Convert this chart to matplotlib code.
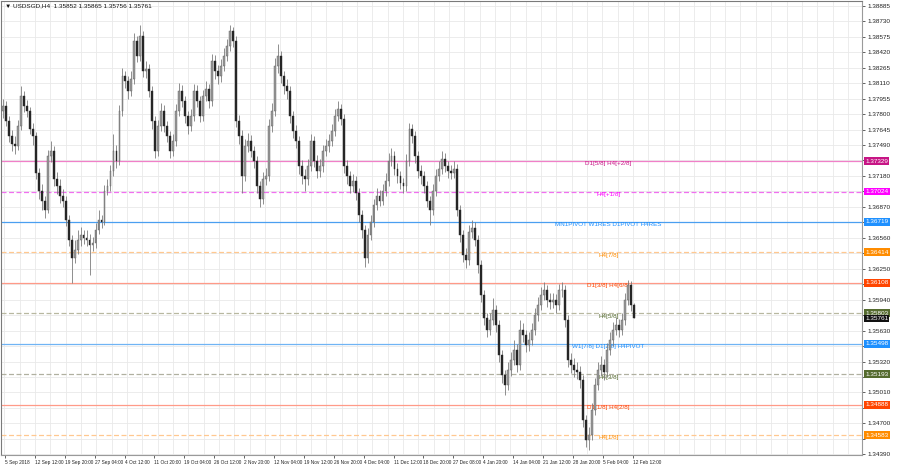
import numpy as np
import matplotlib
matplotlib.use("Agg")
import matplotlib.pyplot as plt
import matplotlib.transforms as mtransforms
from matplotlib import font_manager

plt.rcParams["font.family"] = ["Liberation Sans", "DejaVu Sans"]
_names = {f.name for f in font_manager.fontManager.ttflist}
if "Liberation Sans Narrow" in _names:
    xfont, xsize = ["Liberation Sans Narrow", "DejaVu Sans"], 4.1
else:
    xfont, xsize = ["Liberation Sans", "DejaVu Sans"], 3.4

# ---------------- data ----------------
title = "\u25BC USDSGD,H4  1.35852 1.35865 1.35756 1.35761"

first_open = 1.37834
closes = [
1.37884,1.37734,1.37584,1.37504,1.37484,1.37684,1.37984,1.37884,1.37834,1.37654,
1.37584,1.37214,1.37034,1.36934,1.36834,1.37384,1.37434,1.37154,1.37084,1.36984,
1.36934,1.36734,1.36534,1.36354,1.36434,1.36534,1.36584,1.36554,1.36534,1.36484,
1.36504,1.36634,1.36734,1.36714,1.37034,1.37084,1.37234,1.37434,1.37334,1.37834,
1.38184,1.38134,1.38034,1.38154,1.38534,1.38384,1.38584,1.38234,1.38254,1.38034,
1.37734,1.37434,1.37684,1.37834,1.37684,1.37584,1.37434,1.37534,1.37834,1.38034,
1.37934,1.37784,1.37684,1.37784,1.38034,1.37934,1.37784,1.37984,1.38054,1.37934,
1.38334,1.38234,1.38184,1.38284,1.38384,1.38484,1.38634,1.38534,1.37734,1.37584,
1.37184,1.37484,1.37534,1.37434,1.37334,1.37084,1.36954,1.37154,1.37184,1.37684,
1.37834,1.38284,1.38384,1.38184,1.38084,1.38034,1.37784,1.37634,1.37534,1.37284,
1.37184,1.37154,1.37284,1.37534,1.37334,1.37234,1.37284,1.37434,1.37484,1.37534,
1.37634,1.37784,1.37854,1.37754,1.37284,1.37184,1.37084,1.37134,1.37014,1.36784,
1.36634,1.36354,1.36584,1.36714,1.36884,1.36984,1.36934,1.37034,1.37134,1.37334,
1.37384,1.37254,1.37184,1.37114,1.37084,1.37334,1.37654,1.37584,1.37384,1.37234,
1.37184,1.37084,1.36934,1.36834,1.37034,1.37184,1.37254,1.37354,1.37284,1.37234,
1.37214,1.37254,1.36834,1.36584,1.36384,1.36334,1.36614,1.36654,1.36534,1.36284,
1.35984,1.35754,1.35634,1.35734,1.35834,1.35684,1.35384,1.35184,1.35084,1.35234,
1.35334,1.35434,1.35284,1.35634,1.35584,1.35484,1.35534,1.35634,1.35784,1.35884,
1.35984,1.36034,1.35934,1.35914,1.35934,1.35884,1.36034,1.36034,1.35734,1.35334,
1.35284,1.35234,1.35214,1.35134,1.34734,1.34534,1.34584,1.34834,1.35084,1.35234,
1.35284,1.35214,1.35434,1.35534,1.35634,1.35684,1.35634,1.35734,1.35934,1.36084,
1.35884,1.35761]

highs = [
1.37954,1.37934,1.37784,1.37644,1.37584,1.37744,1.38084,1.38034,1.37944,1.37874,
1.37714,1.37624,1.37264,1.37104,1.36984,1.37444,1.37534,1.37484,1.37224,1.37154,
1.37054,1.36984,1.36784,1.36584,1.36534,1.36634,1.36664,1.36634,1.36634,1.36594,
1.36564,1.36704,1.36834,1.36784,1.37094,1.37154,1.37294,1.37604,1.37494,1.37894,
1.38264,1.38234,1.38184,1.38234,1.38614,1.38584,1.38694,1.38634,1.38334,1.38304,
1.38084,1.37784,1.37744,1.37914,1.37894,1.37734,1.37634,1.37604,1.37904,1.38114,
1.38094,1.37984,1.37834,1.37854,1.38104,1.38094,1.37984,1.38044,1.38134,1.38104,
1.38404,1.38394,1.38294,1.38354,1.38464,1.38554,1.38694,1.38674,1.38584,1.37794,
1.37644,1.37554,1.37614,1.37594,1.37484,1.37384,1.37134,1.37224,1.37264,1.37754,
1.37914,1.38364,1.38504,1.38434,1.38234,1.38154,1.38084,1.37834,1.37694,1.37584,
1.37344,1.37254,1.37354,1.37604,1.37584,1.37394,1.37354,1.37494,1.37554,1.37604,
1.37704,1.37854,1.37934,1.37904,1.37804,1.37344,1.37234,1.37204,1.37184,1.37064,
1.36834,1.36684,1.36654,1.36784,1.36954,1.37064,1.37044,1.37104,1.37214,1.37414,
1.37464,1.37434,1.37314,1.37234,1.37164,1.37404,1.37714,1.37704,1.37634,1.37434,
1.37294,1.37234,1.37134,1.36984,1.37104,1.37254,1.37334,1.37434,1.37414,1.37334,
1.37294,1.37334,1.37304,1.36884,1.36634,1.36454,1.36684,1.36734,1.36714,1.36584,
1.36334,1.36034,1.35804,1.35804,1.35954,1.35884,1.35734,1.35434,1.35234,1.35314,
1.35414,1.35534,1.35494,1.35734,1.35704,1.35634,1.35614,1.35704,1.35854,1.35964,
1.36064,1.36114,1.36084,1.36004,1.36004,1.35994,1.36094,1.36114,1.36084,1.35784,
1.35404,1.35354,1.35314,1.35274,1.35184,1.34784,1.34664,1.34904,1.35154,1.35314,
1.35374,1.35344,1.35504,1.35614,1.35714,1.35764,1.35744,1.35804,1.36004,1.36134,
1.36124,1.35904]

lows = [
1.37764,1.37684,1.37524,1.37434,1.37404,1.37444,1.37644,1.37824,1.37774,1.37604,
1.37494,1.37154,1.36954,1.36834,1.36754,1.36804,1.37324,1.37084,1.37004,1.36914,
1.36864,1.36674,1.36474,1.36104,1.36304,1.36394,1.36474,1.36494,1.36474,1.36184,
1.36424,1.36454,1.36594,1.36654,1.36684,1.36994,1.37034,1.37184,1.37264,1.37294,
1.37784,1.38064,1.37954,1.37984,1.38104,1.38324,1.38334,1.38174,1.38164,1.37974,
1.37654,1.37364,1.37384,1.37634,1.37624,1.37524,1.37364,1.37384,1.37484,1.37784,
1.37874,1.37714,1.37604,1.37634,1.37734,1.37874,1.37724,1.37734,1.37934,1.37864,
1.37884,1.38154,1.38104,1.38124,1.38234,1.38334,1.38434,1.38474,1.37674,1.37504,
1.37014,1.37134,1.37424,1.37374,1.37264,1.37014,1.36864,1.36904,1.37094,1.37134,
1.37624,1.37784,1.38214,1.38114,1.38004,1.37954,1.37714,1.37564,1.37464,1.37204,
1.37104,1.37034,1.37094,1.37234,1.37274,1.37164,1.37174,1.37224,1.37384,1.37424,
1.37484,1.37584,1.37734,1.37694,1.37214,1.37104,1.37014,1.37024,1.36944,1.36714,
1.36554,1.36264,1.36304,1.36534,1.36664,1.36834,1.36874,1.36884,1.36984,1.37084,
1.37284,1.37194,1.37114,1.37054,1.37014,1.37034,1.37284,1.37514,1.37314,1.37164,
1.37104,1.37014,1.36864,1.36684,1.36784,1.36984,1.37134,1.37204,1.37224,1.37164,
1.37154,1.37164,1.36774,1.36514,1.36314,1.36254,1.36284,1.36554,1.36474,1.36204,
1.35914,1.35684,1.35564,1.35584,1.35684,1.35614,1.35314,1.35104,1.34984,1.35034,
1.35174,1.35284,1.35214,1.35234,1.35514,1.35414,1.35424,1.35484,1.35584,1.35724,
1.35834,1.35934,1.35864,1.35844,1.35854,1.35804,1.35834,1.35964,1.35664,1.35264,
1.35204,1.35164,1.35144,1.35054,1.34664,1.34464,1.34434,1.34534,1.34784,1.35034,
1.35174,1.35134,1.35164,1.35384,1.35474,1.35584,1.35564,1.35584,1.35684,1.35884,
1.35824,1.35756]

date_labels = ["5 Sep 2018", "12 Sep 12:00", "19 Sep 20:00", "27 Sep 04:00", "4 Oct 12:00",
               "11 Oct 20:00", "19 Oct 04:00", "26 Oct 12:00", "2 Nov 20:00", "12 Nov 04:00",
               "19 Nov 12:00", "26 Nov 20:00", "4 Dec 04:00", "11 Dec 12:00", "18 Dec 20:00",
               "27 Dec 08:00", "4 Jan 20:00", "14 Jan 04:00", "21 Jan 12:00", "28 Jan 20:00",
               "5 Feb 04:00", "12 Feb 12:00"]

level_prices = [1.37329, 1.37024, 1.36719, 1.36414, 1.36108, 1.35803, 1.35498, 1.35193, 1.34888, 1.34583]
level_names = ["D1[5/8] H4[+2/8]", "H4[+1/8]", "MN1PIVOT W1RES D1PIVOT H4RES", "H4[7/8]",
               "D1[3/8] H4[6/8]", "H4[5/8]", "W1[7/8] D1[2/8] H4PIVOT", "H4[3/8]",
               "D1[1/8] H4[2/8]", "H4[1/8]"]
level_colors = ["#c71585", "#ff00ff", "#1e90ff", "#ff8c00", "#ff4500",
                "#556b2f", "#1e90ff", "#556b2f", "#ff4500", "#ff8c00"]
level_line_colors = ["#f080c8", "#f070f0", "#4a9ff0", "#ffc890", "#ff9a88",
                     "#b8b8a0", "#70b4f4", "#b0b0a0", "#ff9a88", "#ffc890"]
level_styles = ["-", "--", "-", "--", "-", "--", "-", "--", "-", "--"]
current_price = 1.35761

ytick_vals = [1.38885, 1.38730, 1.38575, 1.38420, 1.38265, 1.38110, 1.37955, 1.37800,
              1.37645, 1.37490, 1.37335, 1.37180, 1.37025, 1.36870, 1.36715, 1.36560,
              1.36405, 1.36250, 1.36095, 1.35940, 1.35785, 1.35630, 1.35475, 1.35320,
              1.35165, 1.35010, 1.34855, 1.34700, 1.34545, 1.34390]

# ---------------- figure ----------------
fig = plt.figure(figsize=(9, 4.7), dpi=100)
ax = fig.add_axes([0.0015, 0.032, 0.956, 0.966])

n = len(closes)
idx = np.arange(n)
closes_a = np.array(closes)
opens_a = np.concatenate([[first_open], closes_a[:-1]])
highs_a = np.array(highs)
lows_a = np.array(lows)

ax.set_xlim(-0.5, 287.3)
ax.set_ylim(1.34384, 1.38934)

# grid
for gx in np.arange(0.5, 287, 5.13):
    ax.axvline(gx, color="#e9e9e9", lw=0.6, zorder=0)
for gy in ytick_vals:
    ax.axhline(gy, color="#e9e9e9", lw=0.6, zorder=0)

# level lines + names
for p, name, c, lc, ls in zip(level_prices, level_names, level_colors, level_line_colors, level_styles):
    if ls == "--":
        ax.axhline(p, color=lc, lw=0.9, ls=(0, (4, 2)), zorder=1)
    else:
        ax.axhline(p, color=lc, lw=0.9, zorder=1)
    ax.text(202.5, p - 0.00003, name, color=c, fontsize=4.5, ha="center", va="top", zorder=2)

# candles
ax.vlines(idx, lows_a, highs_a, color="#7c7c7c", lw=0.6, zorder=3)
bull = closes_a >= opens_a
body_lo = np.minimum(opens_a, closes_a)
body_h = np.maximum(np.abs(closes_a - opens_a), 0.00003)
ax.bar(idx[bull], body_h[bull], bottom=body_lo[bull], width=0.62, color="#9a9a9a",
       edgecolor="#5e5e5e", lw=0.3, zorder=4)
ax.bar(idx[~bull], body_h[~bull], bottom=body_lo[~bull], width=0.62, color="#262626",
       edgecolor="#262626", lw=0.3, zorder=4)

# axes styling
for s in ["top", "left"]:
    ax.spines[s].set_color("#7a7a7a")
    ax.spines[s].set_linewidth(0.8)
for s in ["right", "bottom"]:
    ax.spines[s].set_color("#9a9a9a")
    ax.spines[s].set_linewidth(0.8)

# y ticks: those covered by level labels are not shown (as in the reference)
shown = [v for v in ytick_vals
         if min(abs(v - p) for p in level_prices + [current_price]) > 0.0008]
ax.yaxis.tick_right()
ax.set_yticks(ytick_vals)
ax.set_yticklabels([f"{v:.5f}" if v in shown else "" for v in ytick_vals])
ax.tick_params(axis="y", labelsize=4.6, length=2, width=0.5, pad=2, colors="#222222")

xt = np.arange(len(date_labels)) * 10.0 + 0.7
ax.set_xticks(xt)
ax.set_xticklabels(date_labels, ha="left", family=xfont)
ax.tick_params(axis="x", labelsize=xsize, length=2, width=0.5, pad=1.5, colors="#222222")

# price labels on right axis
trans = mtransforms.blended_transform_factory(ax.transAxes, ax.transData)
for p, c in zip(level_prices, level_colors):
    ax.text(1.004, p, f"{p:.5f}", transform=trans, fontsize=4.6, color="white",
            ha="left", va="center", zorder=10, clip_on=False,
            bbox=dict(boxstyle="square,pad=0.22", fc=c, ec="none"))
ax.text(1.004, current_price - 0.00008, f"{current_price:.5f}", transform=trans, fontsize=4.6,
        color="white", ha="left", va="center", zorder=11, clip_on=False,
        bbox=dict(boxstyle="square,pad=0.15", fc="#111111", ec="none"))

ax.text(0.004, 0.994, title, transform=ax.transAxes, fontsize=4.6, ha="left", va="top",
        color="#111111", zorder=12)

fig.savefig("out.png", dpi=100)
